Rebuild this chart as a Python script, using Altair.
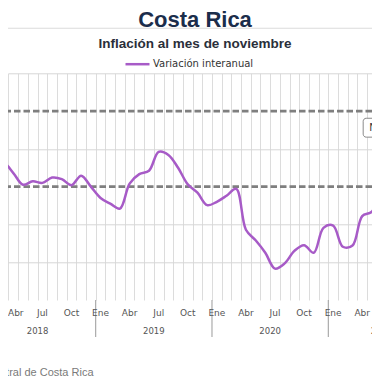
import altair as alt
import pandas as pd

# ---- data ----
fechas = ["2018-01", "2018-02", "2018-03", "2018-04", "2018-05", "2018-06",
          "2018-07", "2018-08", "2018-09", "2018-10", "2018-11", "2018-12",
          "2019-01", "2019-02", "2019-03", "2019-04", "2019-05", "2019-06",
          "2019-07", "2019-08", "2019-09", "2019-10", "2019-11", "2019-12",
          "2020-01", "2020-02", "2020-03", "2020-04", "2020-05", "2020-06",
          "2020-07", "2020-08", "2020-09", "2020-10", "2020-11", "2020-12",
          "2021-01", "2021-02", "2021-03", "2021-04", "2021-05", "2021-06"]
variacion = [2.55, 2.45, 2.62, 2.36, 2.05, 2.14, 2.10, 2.24, 2.20, 2.04, 2.29, 2.00,
             1.70, 1.55, 1.42, 2.08, 2.33, 2.42, 2.92, 2.84, 2.50, 2.06, 1.84, 1.51,
             1.60, 1.76, 1.94, 0.86, 0.58, 0.25, -0.17, -0.03, 0.30, 0.45, 0.25, 0.91,
             0.97, 0.41, 0.44, 1.22, 1.34, 1.97]
meta_limites = [2, 4]
nombres_mes = ["Ene", "Abr", "Jul", "Oct"]
numeros_mes = [1, 4, 7, 10]
anios = [2018, 2019, 2020, 2021]
meses_por_anio = [12, 12, 12, 11]
serie = "Variación interanual"
titulo = "Costa Rica"
subtitulo = "Inflación al mes de noviembre"
nota = "Nov-21"
fuente = "Fuente: Banco Central de Costa Rica"


def idx(anio, mes):
    # months since Jan 2019 (start of month)
    return (anio - 2019) * 12 + (mes - 1)


T_MIN, T_MAX = -9.05, 28.51
W, H = 364, 226.7

df = pd.DataFrame({
    "fecha": fechas,
    "t": [idx(int(f[:4]), int(f[5:])) + 0.5 for f in fechas],
    "valor": variacion,
    "serie": serie,
})
df_meta = pd.DataFrame({"v": meta_limites})
df_mes = pd.DataFrame([
    {"t": idx(a, m) + 0.5, "txt": n}
    for a in anios for m, n in zip(numeros_mes, nombres_mes)
])
df_mes = df_mes[(df_mes.t > T_MIN) & (df_mes.t < T_MAX)]
# a label that would stick out of the left edge is kept inside it
borde = df_mes.t < T_MIN + 0.9
df_mes_izq = df_mes[borde].assign(t=T_MIN)
df_mes = df_mes[~borde]
df_anio = pd.DataFrame({"t": [idx(a, 1) + n / 2 for a, n in zip(anios, meses_por_anio)],
                        "txt": [str(a) for a in anios]})
df_sep = pd.DataFrame({"t": [idx(a, 1) for a in anios[1:]]})
df_nota = pd.DataFrame({"t": [27.6], "t2": [33.0], "y": [3.81], "y2": [3.31], "txt": [nota]})

xscale = alt.Scale(domain=[T_MIN, T_MAX], nice=False, zero=False)
yscale = alt.Scale(domain=[-1, 5], nice=False, zero=False)
xaxis = alt.Axis(values=list(range(-9, 29)), grid=True, gridColor="#dcdcdc",
                 labels=False, ticks=False, domain=False, title=None)
yaxis = alt.Axis(values=[0, 1, 3, 5], grid=True, gridColor="#d6d6d6",
                 labels=False, ticks=False, domain=False, title=None)
X = alt.X("t:Q", scale=xscale, axis=xaxis)

meta = alt.Chart(df_meta).mark_rule(color="#7f7f7f", strokeWidth=2.6, strokeDash=[6.5, 3]).encode(
    y=alt.Y("v:Q", scale=yscale, axis=yaxis)
)

linea = alt.Chart(df).mark_line(strokeWidth=2.5, interpolate="catmull-rom").encode(
    x=X,
    y=alt.Y("valor:Q", scale=yscale, axis=yaxis),
    color=alt.Color("serie:N", scale=alt.Scale(range=["#a75bc7"]),
                    legend=alt.Legend(orient="none", legendX=116, legendY=-22.6, title=None,
                                      symbolType="stroke", symbolSize=576, symbolStrokeWidth=2.5,
                                      labelFont="DejaVu Sans", labelFontSize=10, labelColor="#333333",
                                      labelOffset=2, padding=0)),
)

mes_style = dict(font="DejaVu Sans", fontSize=9, color="#555555", baseline="middle")
mes_txt = alt.Chart(df_mes).mark_text(**mes_style).encode(
    x=X, y=alt.value(239.7), text="txt:N")
mes_txt_izq = alt.Chart(df_mes_izq).mark_text(align="left", **mes_style).encode(
    x=X, y=alt.value(239.7), text="txt:N")
anio_txt = alt.Chart(df_anio).mark_text(font="DejaVu Sans", fontSize=8.5, color="#555555",
                                        baseline="middle").encode(
    x=X, y=alt.value(257.4), text="txt:N")
sep = alt.Chart(df_sep).mark_rule(color="#9a9a9a", strokeWidth=1).encode(
    x=X, y=alt.value(H), y2=alt.value(263.7))

nota_box = alt.Chart(df_nota).mark_rect(fill="white", stroke="#8a8a8a", strokeWidth=1,
                                        cornerRadius=3).encode(
    x=X, x2="t2:Q", y=alt.Y("y:Q", scale=yscale, axis=yaxis), y2="y2:Q")
nota_txt = alt.Chart(df_nota).mark_text(font="DejaVu Sans", fontSize=10, color="#333333",
                                        align="left", baseline="middle", dx=6).encode(
    x=X, y=alt.value(128 - 73.3), text="txt:N")

linea_sup = alt.Chart(df_meta).mark_rule(color="#e3e3e3", strokeWidth=1).encode(
    x=alt.value(0), x2=alt.value(W), y=alt.value(-45))

titulo_txt = alt.Chart(pd.DataFrame({"txt": [titulo]})).mark_text(
    font="Liberation Sans", fontSize=22, fontWeight="bold", color="#1b2d4b",
    align="center", baseline="alphabetic").encode(
    x=alt.value(187), y=alt.value(-46.6), text="txt:N")
subtitulo_txt = alt.Chart(pd.DataFrame({"txt": [subtitulo]})).mark_text(
    font="Liberation Sans", fontSize=13.5, fontWeight="bold", color="#2a2f3a",
    align="center", baseline="alphabetic").encode(
    x=alt.value(187), y=alt.value(-25.6), text="txt:N")

fuente_txt = alt.Chart(pd.DataFrame({"txt": [fuente]})).mark_text(
    font="Liberation Sans", fontSize=11, color="#7a7a7a", align="left", baseline="middle").encode(
    x=alt.value(-96.7), y=alt.value(299.7), text="txt:N")

chart = alt.layer(meta, linea, sep, mes_txt, mes_txt_izq, anio_txt, nota_box, nota_txt, linea_sup,
                  titulo_txt, subtitulo_txt, fuente_txt).properties(
    width=W, height=H,
    autosize=alt.AutoSizeParams(type="none"),
    padding={"left": 0, "top": 65.3, "right": 0, "bottom": 80},
).configure_view(stroke=None)

chart.save("out.html", embed_options={"renderer": "svg", "actions": False})
